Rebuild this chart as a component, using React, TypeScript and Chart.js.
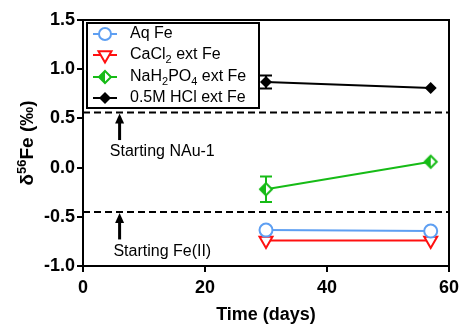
import React, { useEffect, useRef } from 'react';
import { Chart, registerables } from 'chart.js';

Chart.register(...registerables);

// ---- data ----
const days = [30, 57];
const aqFe = [-0.635, -0.645];
const cacl2Fe = [-0.74, -0.74];
const nah2po4Fe = [-0.22, 0.06];
const nah2po4Err = [0.13, 0];
const hclFe = [0.87, 0.81];
const hclErr = [0.065, 0];
const seriesLabels = ['Aq Fe', 'CaCl_2 ext Fe', 'NaH_2PO_4 ext Fe', '0.5M HCl ext Fe'];
const refLines = [0.56, -0.45];
const refLabels = ['Starting NAu-1', 'Starting Fe(II)'];
const arrowDay = 6;
const labelDay = 13;
const xTicks = [0, 20, 40, 60];
const yTicks = [-1.0, -0.5, 0, 0.5, 1.0, 1.5];
const xTitle = 'Time (days)';

const FONT = '"Liberation Sans", Arial, Helvetica, sans-serif';
const BLUE = '#5e9ff2';
const RED = '#ff1010';
const GREEN = '#16bb16';
const BLACK = '#000000';

function parseRich(s: string): { t: string; sub: boolean }[] {
  const out: { t: string; sub: boolean }[] = [];
  let buf = '';
  for (let i = 0; i < s.length; i++) {
    if (s[i] === '_' && i + 1 < s.length) {
      if (buf) out.push({ t: buf, sub: false });
      buf = '';
      out.push({ t: s[i + 1], sub: true });
      i++;
    } else buf += s[i];
  }
  if (buf) out.push({ t: buf, sub: false });
  return out;
}

function halfDiamond(color: string, r: number, lw: number): HTMLCanvasElement {
  const c = document.createElement('canvas');
  const s = Math.ceil(2 * r + lw * 2 + 2);
  c.width = s;
  c.height = s;
  const ctx = c.getContext('2d')!;
  const cx = s / 2, cy = s / 2;
  const path = () => {
    ctx.beginPath();
    ctx.moveTo(cx, cy - r);
    ctx.lineTo(cx + r, cy);
    ctx.lineTo(cx, cy + r);
    ctx.lineTo(cx - r, cy);
    ctx.closePath();
  };
  path();
  ctx.fillStyle = '#fff';
  ctx.fill();
  ctx.beginPath();
  ctx.moveTo(cx, cy - r);
  ctx.lineTo(cx - r, cy);
  ctx.lineTo(cx, cy + r);
  ctx.closePath();
  ctx.fillStyle = color;
  ctx.fill();
  path();
  ctx.strokeStyle = color;
  ctx.lineWidth = lw;
  ctx.stroke();
  return c;
}

export default function App() {
  const ref = useRef<HTMLCanvasElement | null>(null);

  useEffect(() => {
    document.body.style.margin = '0';
    const canvas = ref.current!;
    const greenDiamond = halfDiamond(GREEN, 6, 2);

    const pts = (vals: number[]) => days.map((d, i) => ({ x: d, y: vals[i] }));
    const errs: (number[] | null)[] = [null, null, nah2po4Err, hclErr];
    const colors = [BLUE, RED, GREEN, BLACK];

    const plugin = {
      id: 'custom',
      beforeDatasetsDraw(chart: any) {
        const { ctx, chartArea: ca, scales } = chart;
        const x = scales.x, y = scales.y;
        ctx.save();
        // reference dashed lines
        ctx.strokeStyle = BLACK;
        ctx.lineWidth = 2;
        ctx.setLineDash([7, 4]);
        refLines.forEach((v) => {
          const py = y.getPixelForValue(v);
          ctx.beginPath();
          ctx.moveTo(ca.left, py);
          ctx.lineTo(ca.right, py);
          ctx.stroke();
        });
        ctx.setLineDash([]);
        // arrows and labels
        refLines.forEach((v, i) => {
          const px = x.getPixelForValue(arrowDay);
          const top = y.getPixelForValue(v) + 1;
          const bottom = y.getPixelForValue(v - 0.28);
          ctx.lineWidth = 3;
          ctx.beginPath();
          ctx.moveTo(px, top + 6);
          ctx.lineTo(px, bottom);
          ctx.stroke();
          ctx.beginPath();
          ctx.moveTo(px, top);
          ctx.lineTo(px - 4.5, top + 10);
          ctx.lineTo(px + 4.5, top + 10);
          ctx.closePath();
          ctx.fillStyle = BLACK;
          ctx.fill();
          ctx.font = `16px ${FONT}`;
          ctx.textAlign = 'center';
          ctx.textBaseline = 'middle';
          ctx.fillText(refLabels[i], x.getPixelForValue(labelDay), y.getPixelForValue(v - 0.4));
        });
        // error bars
        chart.data.datasets.forEach((ds: any, di: number) => {
          const e = errs[di];
          if (!e) return;
          ctx.strokeStyle = colors[di];
          ctx.lineWidth = 2;
          ds.data.forEach((p: any, i: number) => {
            if (!e[i]) return;
            const px = x.getPixelForValue(p.x);
            const y1 = y.getPixelForValue(p.y + e[i]);
            const y2 = y.getPixelForValue(p.y - e[i]);
            ctx.beginPath();
            ctx.moveTo(px, y1);
            ctx.lineTo(px, y2);
            ctx.moveTo(px - 6, y1);
            ctx.lineTo(px + 6, y1);
            ctx.moveTo(px - 6, y2);
            ctx.lineTo(px + 6, y2);
            ctx.stroke();
          });
        });
        ctx.restore();
      },
      afterDatasetsDraw(chart: any) {
        const { ctx, chartArea: ca } = chart;
        ctx.save();
        // frame top/right
        ctx.strokeStyle = BLACK;
        ctx.lineWidth = 2;
        ctx.beginPath();
        ctx.moveTo(ca.left, ca.top);
        ctx.lineTo(ca.right, ca.top);
        ctx.lineTo(ca.right, ca.bottom);
        ctx.stroke();

        // legend
        const lx = ca.left + 4, ly = ca.top + 3, lw = 172, lh = 85;
        ctx.fillStyle = '#fff';
        ctx.fillRect(lx, ly, lw, lh);
        ctx.strokeRect(lx, ly, lw, lh);
        const rows = [11, 32, 54, 75];
        seriesLabels.forEach((lab, i) => {
          const ry = ly + rows[i];
          const col = colors[i];
          ctx.strokeStyle = col;
          ctx.lineWidth = 2;
          ctx.beginPath();
          ctx.moveTo(lx + 6, ry);
          ctx.lineTo(lx + 30, ry);
          ctx.stroke();
          const mx = lx + 18;
          if (i === 0) {
            ctx.beginPath();
            ctx.arc(mx, ry, 6, 0, Math.PI * 2);
            ctx.fillStyle = '#fff';
            ctx.fill();
            ctx.stroke();
          } else if (i === 1) {
            const r = 7.5;
            ctx.beginPath();
            ctx.moveTo(mx, ry + r);
            ctx.lineTo(mx - r * 0.866, ry - r / 2);
            ctx.lineTo(mx + r * 0.866, ry - r / 2);
            ctx.closePath();
            ctx.fillStyle = '#fff';
            ctx.fill();
            ctx.stroke();
          } else if (i === 2) {
            ctx.drawImage(greenDiamond, mx - greenDiamond.width / 2, ry - greenDiamond.height / 2);
          } else {
            const r = 6;
            ctx.beginPath();
            ctx.moveTo(mx, ry - r);
            ctx.lineTo(mx + r, ry);
            ctx.lineTo(mx, ry + r);
            ctx.lineTo(mx - r, ry);
            ctx.closePath();
            ctx.fillStyle = BLACK;
            ctx.fill();
          }
          let tx = lx + 43;
          ctx.fillStyle = BLACK;
          ctx.textAlign = 'left';
          ctx.textBaseline = 'middle';
          parseRich(lab).forEach((seg) => {
            ctx.font = seg.sub ? `11px ${FONT}` : `16px ${FONT}`;
            ctx.fillText(seg.t, tx, seg.sub ? ry + 5 : ry);
            tx += ctx.measureText(seg.t).width;
          });
        });

        // y-axis title: δ^56Fe (‰)
        const segs = [
          { t: 'δ', f: `bold 19px ${FONT}`, dy: 0 },
          { t: '56', f: `bold 13px ${FONT}`, dy: -6 },
          { t: 'Fe (‰)', f: `bold 19px ${FONT}`, dy: 0 },
        ];
        let total = 0;
        segs.forEach((s) => {
          ctx.font = s.f;
          total += ctx.measureText(s.t).width;
        });
        ctx.translate(28, (ca.top + ca.bottom) / 2);
        ctx.rotate(-Math.PI / 2);
        let sx = -total / 2;
        ctx.fillStyle = BLACK;
        ctx.textAlign = 'left';
        ctx.textBaseline = 'middle';
        segs.forEach((s) => {
          ctx.font = s.f;
          ctx.fillText(s.t, sx, s.dy);
          sx += ctx.measureText(s.t).width;
        });
        ctx.restore();
      },
    };

    const tickFont = { family: FONT, size: 18, weight: 'bold' as const };

    const chart = new Chart(canvas, {
      type: 'scatter',
      data: {
        datasets: [
          {
            label: 'Aq Fe',
            data: pts(aqFe),
            showLine: true,
            borderColor: BLUE,
            backgroundColor: '#fff',
            pointStyle: 'circle',
            pointRadius: 6.5,
            pointBorderWidth: 2,
            borderWidth: 2,
          },
          {
            label: 'CaCl2 ext Fe',
            data: pts(cacl2Fe),
            showLine: true,
            borderColor: RED,
            backgroundColor: '#fff',
            pointStyle: 'triangle',
            pointRotation: 180,
            pointRadius: 7.5,
            pointBorderWidth: 2,
            borderWidth: 2,
          },
          {
            label: 'NaH2PO4 ext Fe',
            data: pts(nah2po4Fe),
            showLine: true,
            borderColor: GREEN,
            backgroundColor: GREEN,
            pointStyle: greenDiamond as any,
            pointRadius: 6,
            borderWidth: 2,
          },
          {
            label: '0.5M HCl ext Fe',
            data: pts(hclFe),
            showLine: true,
            borderColor: BLACK,
            backgroundColor: BLACK,
            pointStyle: 'rectRot',
            pointRadius: 6,
            pointBorderWidth: 0,
            borderWidth: 2,
          },
        ],
      },
      options: {
        animation: false,
        responsive: false,
        maintainAspectRatio: false,
        layout: { padding: { top: 20, right: 12, left: 0, bottom: 0 } },
        plugins: { legend: { display: false }, tooltip: { enabled: false } },
        scales: {
          x: {
            type: 'linear',
            min: 0,
            max: 60,
            afterBuildTicks: (s: any) => {
              s.ticks = xTicks.map((v) => ({ value: v }));
            },
            afterFit: (s: any) => {
              s.height = 60;
              s.paddingLeft = 0;
              s.paddingRight = 0;
            },
            grid: { drawOnChartArea: false, drawTicks: true, tickLength: 6, lineWidth: 2, color: BLACK },
            border: { color: BLACK, width: 2 },
            ticks: { color: BLACK, font: tickFont, padding: 5, maxRotation: 0, callback: (v: any) => String(v) },
            title: {
              display: true,
              text: xTitle,
              color: BLACK,
              font: { family: FONT, size: 18, weight: 'bold' },
              padding: { top: 0, bottom: 0 },
            },
          },
          y: {
            min: -1,
            max: 1.5,
            afterBuildTicks: (s: any) => {
              s.ticks = yTicks.map((v) => ({ value: v }));
            },
            afterFit: (s: any) => {
              s.width = 83;
              s.paddingTop = 0;
              s.paddingBottom = 0;
            },
            grid: { drawOnChartArea: false, drawTicks: true, tickLength: 6, lineWidth: 2, color: BLACK },
            border: { color: BLACK, width: 2 },
            ticks: { color: BLACK, font: tickFont, padding: 2, callback: (v: any) => Number(v).toFixed(1) },
          },
        },
      },
      plugins: [plugin],
    });
    return () => chart.destroy();
  }, []);

  return (
    <div style={{ position: 'absolute', left: 0, top: 0, width: 461, height: 326 }}>
      <canvas ref={ref} width={461} height={326} style={{ width: 461, height: 326, display: 'block' }} />
    </div>
  );
}
